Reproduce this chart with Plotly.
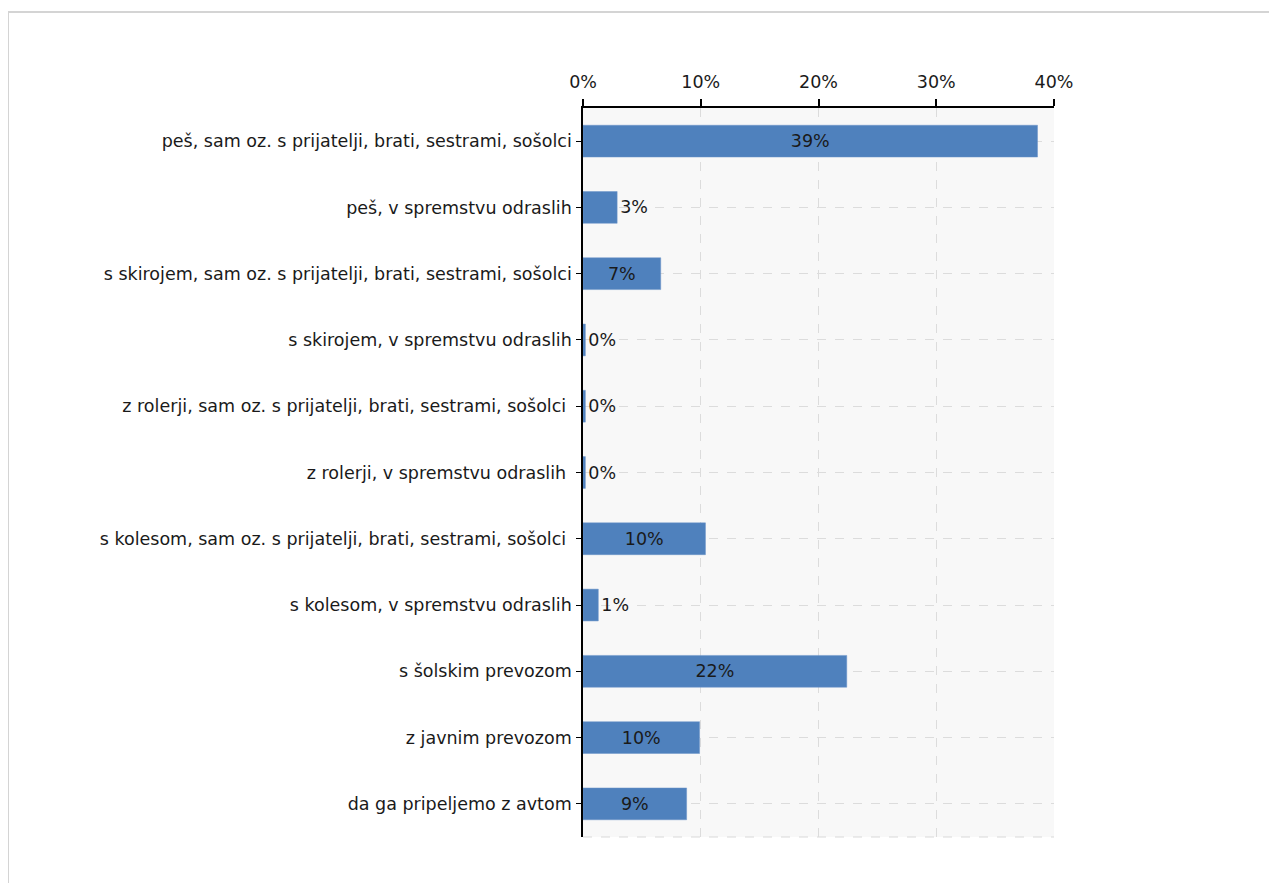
import plotly.graph_objects as go

categories = [
    "peš, sam oz. s prijatelji, brati, sestrami, sošolci",
    "peš, v spremstvu odraslih",
    "s skirojem, sam oz. s prijatelji, brati, sestrami, sošolci",
    "s skirojem, v spremstvu odraslih",
    "z rolerji, sam oz. s prijatelji, brati, sestrami, sošolci ",
    "z rolerji, v spremstvu odraslih ",
    "s kolesom, sam oz. s prijatelji, brati, sestrami, sošolci ",
    "s kolesom, v spremstvu odraslih",
    "s šolskim prevozom",
    "z javnim prevozom",
    "da ga pripeljemo z avtom",
]
values = [38.6, 2.9, 6.6, 0.2, 0.2, 0.2, 10.4, 1.3, 22.4, 9.9, 8.8]
tick_vals = [0, 10, 20, 30, 40]
tick_text = ["0%", "10%", "20%", "30%", "40%"]

FONT = "DejaVu Sans"
FS = 17.5
W, H = 1269, 875
OFF = 8  # browser body margin
L, R, T, B = 583 - OFF, 1054 - OFF, 108 - OFF, 837 - OFF

positions = ["inside" if v >= 5 else "outside" for v in values]

fig = go.Figure()
fig.add_trace(go.Bar(
    y=categories, x=values, orientation="h",
    marker=dict(color="#4f81bd", line=dict(color="#6d95c8", width=0.5)),
    width=0.48,
    text=[f"{round(v)}%" for v in values],
    textposition=positions,
    insidetextanchor="middle",
    textfont=dict(family=FONT, size=FS, color="#1a1a1a"),
    cliponaxis=False,
    hoverinfo="skip",
))

px2x = lambda p: (p - OFF - L) / (R - L)
py2y = lambda p: (B - (p - OFF)) / (B - T)

shapes = [
    dict(type="line", xref="paper", yref="paper", x0=0, x1=1, y0=0, y1=0,
         line=dict(color="#d9d9d9", width=1, dash="dash"), layer="below"),
    dict(type="line", xref="paper", yref="paper", x0=px2x(8), x1=px2x(1300),
         y0=py2y(12), y1=py2y(12), line=dict(color="#d4d4d4", width=2)),
    dict(type="line", xref="paper", yref="paper", x0=px2x(8), x1=px2x(8),
         y0=py2y(12), y1=py2y(900), line=dict(color="#d4d4d4", width=2)),
]

fig.update_layout(
    width=W, height=H,
    margin=dict(l=L, r=W - R, t=T, b=H - B, pad=0),
    paper_bgcolor="white",
    plot_bgcolor="#f8f8f8",
    showlegend=False,
    bargap=0.52,
    font=dict(family=FONT, size=FS, color="#1a1a1a"),
    shapes=shapes,
    xaxis=dict(
        side="top", range=[0, 40], tickvals=tick_vals, ticktext=tick_text,
        showline=True, linecolor="#000000", linewidth=1.5,
        ticks="outside", ticklen=7, tickcolor="#000000", tickwidth=1.5,
        showgrid=True, gridcolor="#dcdcdc", griddash="dash", gridwidth=1,
        zeroline=False, fixedrange=True,
        tickfont=dict(family=FONT, size=FS, color="#1a1a1a"),
        ticklabelstandoff=4,
    ),
    yaxis=dict(
        autorange="reversed",
        showline=True, linecolor="#000000", linewidth=1.5,
        ticks="outside", ticklen=5, tickcolor="#000000",
        showgrid=True, gridcolor="#dcdcdc", griddash="dash", gridwidth=1,
        tickfont=dict(family=FONT, size=FS, color="#1a1a1a"),
        ticklabelstandoff=1,
    ),
)

fig.write_html("out.html")
